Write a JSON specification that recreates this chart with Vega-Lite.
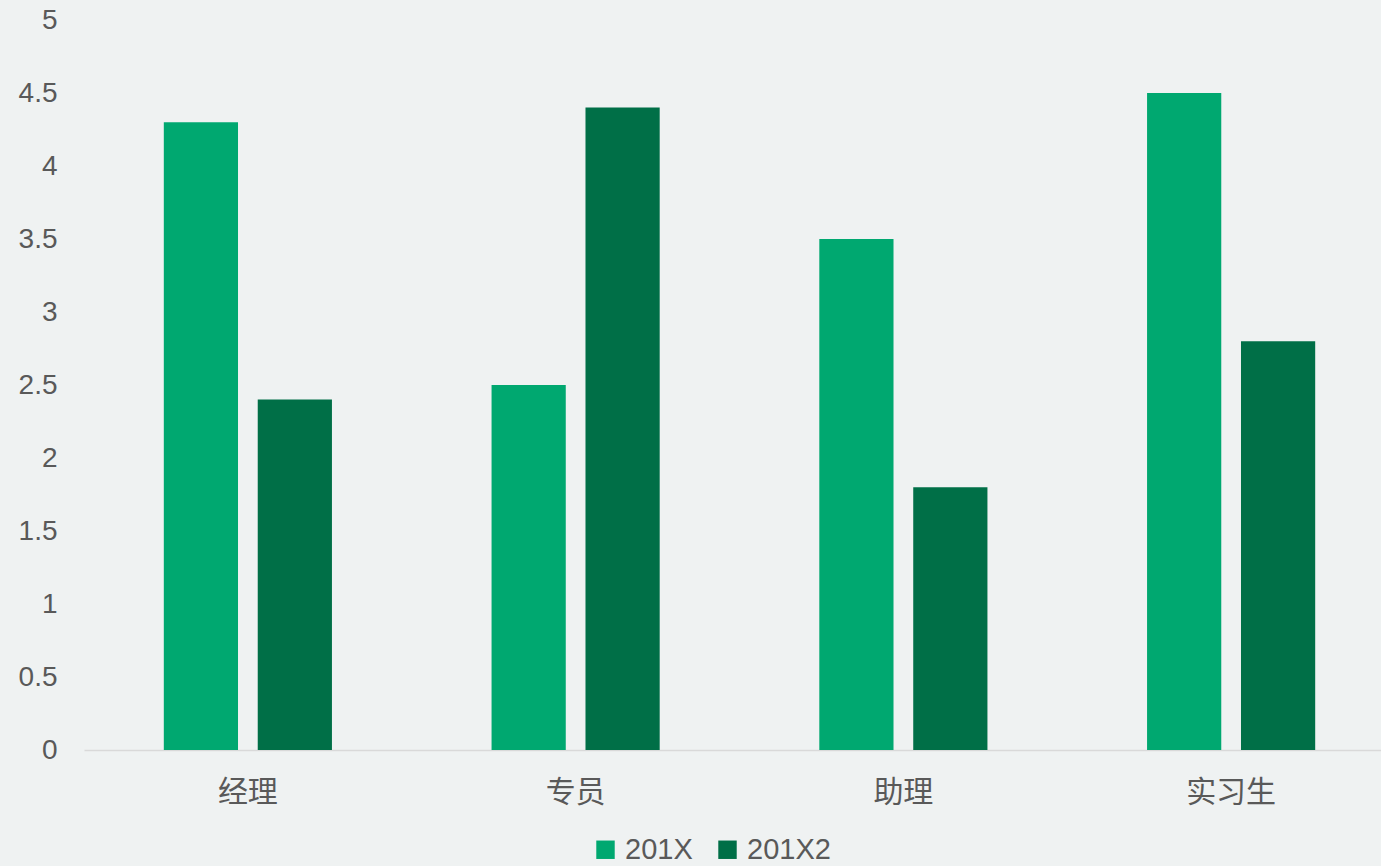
{
  "$schema": "https://vega.github.io/schema/vega-lite/v6.json",
  "width": 1297,
  "height": 730,
  "autosize": "none",
  "padding": {"left": 84, "top": 20, "right": 0, "bottom": 116},
  "background": "#eff2f2",
  "config": {
    "view": {"stroke": null},
    "font": "Liberation Sans"
  },
  "data": {
    "values": [
      {"category": "经理", "series": "201X", "value": 4.3},
      {"category": "经理", "series": "201X2", "value": 2.4},
      {"category": "专员", "series": "201X", "value": 2.5},
      {"category": "专员", "series": "201X2", "value": 4.4},
      {"category": "助理", "series": "201X", "value": 3.5},
      {"category": "助理", "series": "201X2", "value": 1.8},
      {"category": "实习生", "series": "201X", "value": 4.5},
      {"category": "实习生", "series": "201X2", "value": 2.8}
    ]
  },
  "mark": {"type": "bar"},
  "encoding": {
    "x": {
      "field": "category",
      "type": "nominal",
      "sort": ["经理", "专员", "助理", "实习生"],
      "scale": {"paddingInner": 0.487, "paddingOuter": 0.2435, "range": [0, 1311]},
      "axis": {
        "title": null,
        "labelAngle": 0,
        "ticks": false,
        "domainColor": "#d9d9d9",
        "domainWidth": 1.5,
        "labelFont": "Noto Sans CJK SC",
        "labelFontSize": 30,
        "labelColor": "#595959",
        "labelPadding": 27
      }
    },
    "xOffset": {
      "field": "series",
      "type": "nominal",
      "scale": {"paddingInner": 0.21, "paddingOuter": 0}
    },
    "y": {
      "field": "value",
      "type": "quantitative",
      "scale": {"domain": [0, 5], "nice": false},
      "axis": {
        "title": null,
        "values": [0, 0.5, 1, 1.5, 2, 2.5, 3, 3.5, 4, 4.5, 5],
        "format": "~g",
        "grid": false,
        "domain": false,
        "ticks": false,
        "labelFontSize": 28,
        "labelColor": "#595959",
        "labelPadding": 27
      }
    },
    "color": {
      "field": "series",
      "type": "nominal",
      "scale": {"domain": ["201X", "201X2"], "range": ["#00a870", "#006f47"]},
      "legend": {
        "title": null,
        "orient": "none",
        "direction": "horizontal",
        "legendX": 507,
        "legendY": 815,
        "symbolType": "square",
        "symbolSize": 340,
        "symbolStrokeWidth": 0,
        "symbolOpacity": 1,
        "labelFontSize": 29,
        "labelColor": "#595959",
        "labelOffset": 5,
        "columnPadding": 20
      }
    }
  }
}
